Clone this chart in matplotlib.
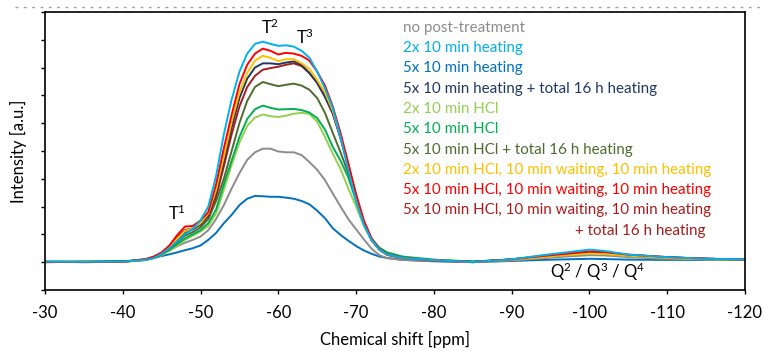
import matplotlib.pyplot as plt
from matplotlib.lines import Line2D

plt.rcParams['font.family'] = ['Lato', 'DejaVu Sans']
plt.rcParams['axes.unicode_minus'] = False
plt.rcParams['mathtext.default'] = 'regular'

# chemical shift grid [ppm]
shift = [-30, -35, -40, -43, -44, -45, -46, -47, -48, -49, -50, -51, -52, -53, -54,
         -55, -56, -57, -58, -59, -60, -61, -62, -63, -64, -65, -66, -67, -68, -69,
         -70, -71, -72, -73, -74, -76, -80, -85, -90, -94, -97, -100, -102, -105,
         -110, -115, -120]

no_post = [0.01, 0.02, 0.01, 0.12, 0.2, 0.3, 0.42, 0.57, 0.7, 0.8, 0.92, 1.15, 1.55, 2.05, 2.65,
           3.2, 3.68, 3.95, 4.08, 4.08, 3.98, 3.95, 3.95, 3.85, 3.6, 3.32, 2.95, 2.47, 2.0, 1.55,
           1.18, 0.82, 0.48, 0.25, 0.14, 0.08, 0.04, 0.0, 0.06, 0.14, 0.2, 0.25, 0.24, 0.18,
           0.12, 0.1, 0.1]
heat_2x = [0.02, 0.01, 0.02, 0.08, 0.15, 0.3, 0.5, 0.75, 1.0, 1.2, 1.5, 2.0, 3.1, 4.6, 5.85,
           6.85, 7.5, 7.85, 7.93, 7.85, 7.78, 7.8, 7.75, 7.6, 7.35, 6.85, 6.25, 5.55, 4.5, 3.3,
           2.2, 1.35, 0.8, 0.45, 0.28, 0.15, 0.07, 0.0, 0.1, 0.25, 0.35, 0.45, 0.4, 0.27,
           0.18, 0.12, 0.1]
heat_5x = [0.01, 0.0, 0.01, 0.1, 0.15, 0.22, 0.28, 0.35, 0.43, 0.5, 0.6, 0.8, 1.05, 1.4, 1.7,
           2.05, 2.28, 2.38, 2.37, 2.35, 2.35, 2.32, 2.28, 2.2, 2.08, 1.85, 1.58, 1.22, 0.98, 0.77,
           0.58, 0.42, 0.3, 0.2, 0.15, 0.08, 0.03, 0.0, 0.04, 0.08, 0.1, 0.12, 0.11, 0.09,
           0.08, 0.08, 0.08]
heat_5x_16h = [0.0, 0.01, 0.02, 0.08, 0.16, 0.3, 0.52, 0.8, 1.05, 1.18, 1.35, 1.7, 2.5, 3.65, 4.85,
               5.9, 6.6, 7.0, 7.15, 7.15, 7.12, 7.18, 7.22, 7.1, 6.8, 6.45, 5.95, 5.35, 4.45, 3.45,
               2.3, 1.4, 0.78, 0.44, 0.26, 0.14, 0.06, 0.01, 0.09, 0.2, 0.28, 0.34, 0.32, 0.24,
               0.16, 0.12, 0.1]
hcl_2x = [0.02, 0.0, 0.02, 0.08, 0.15, 0.25, 0.4, 0.6, 0.8, 0.95, 1.1, 1.3, 1.75, 2.6, 3.5,
          4.3, 4.9, 5.2, 5.31, 5.25, 5.22, 5.27, 5.34, 5.37, 5.33, 5.05, 4.5, 3.9, 3.35, 2.65,
          2.0, 1.3, 0.78, 0.47, 0.3, 0.17, 0.08, 0.02, 0.09, 0.18, 0.25, 0.3, 0.29, 0.22,
          0.15, 0.11, 0.1]
hcl_5x = [0.01, 0.02, 0.03, 0.1, 0.18, 0.3, 0.45, 0.65, 0.85, 1.0, 1.15, 1.4, 1.9, 2.8, 3.65,
          4.5, 5.15, 5.5, 5.63, 5.55, 5.49, 5.5, 5.51, 5.47, 5.38, 5.18, 4.77, 4.15, 3.65, 3.05,
          2.2, 1.42, 0.85, 0.52, 0.35, 0.2, 0.09, 0.02, 0.1, 0.2, 0.28, 0.34, 0.33, 0.25,
          0.17, 0.12, 0.1]
hcl_5x_16h = [0.01, 0.01, 0.02, 0.08, 0.15, 0.28, 0.48, 0.72, 0.95, 1.08, 1.25, 1.55, 2.2, 3.0, 4.0,
              5.0, 5.8, 6.3, 6.48, 6.4, 6.33, 6.38, 6.42, 6.35, 6.2, 5.9, 5.37, 4.65, 3.95, 3.2,
              2.25, 1.4, 0.8, 0.47, 0.3, 0.16, 0.07, 0.01, 0.1, 0.22, 0.3, 0.36, 0.35, 0.26,
              0.18, 0.12, 0.1]
hcl_wait_2x = [0.0, 0.02, 0.0, 0.08, 0.17, 0.32, 0.55, 0.85, 1.12, 1.22, 1.4, 1.75, 2.6, 3.8, 5.05,
               6.1, 6.8, 7.25, 7.42, 7.35, 7.23, 7.3, 7.3, 7.15, 6.95, 6.55, 6.1, 5.45, 4.5, 3.5,
               2.35, 1.42, 0.8, 0.45, 0.27, 0.14, 0.06, 0.0, 0.08, 0.18, 0.26, 0.32, 0.3, 0.23,
               0.15, 0.1, 0.1]
hcl_wait_5x = [0.01, 0.0, 0.01, 0.1, 0.2, 0.35, 0.6, 0.97, 1.28, 1.3, 1.5, 1.8, 2.8, 4.1, 5.3,
               6.4, 7.1, 7.5, 7.68, 7.6, 7.47, 7.53, 7.5, 7.42, 7.25, 6.85, 6.35, 5.6, 4.65, 3.55,
               2.45, 1.5, 0.85, 0.47, 0.28, 0.15, 0.06, 0.0, 0.1, 0.22, 0.3, 0.38, 0.36, 0.27,
               0.18, 0.12, 0.1]
hcl_wait_5x_16h = [0.0, 0.01, 0.01, 0.09, 0.18, 0.33, 0.56, 0.9, 1.15, 1.22, 1.35, 1.65, 2.35, 3.45, 4.6,
                   5.6, 6.3, 6.7, 6.92, 6.98, 7.03, 7.1, 7.15, 7.05, 6.8, 6.45, 5.95, 5.35, 4.5, 3.5,
                   2.35, 1.42, 0.8, 0.45, 0.27, 0.14, 0.06, 0.0, 0.09, 0.2, 0.28, 0.35, 0.33, 0.25,
                   0.17, 0.12, 0.1]

labels = ['no post-treatment', '2x 10 min heating', '5x 10 min heating',
          '5x 10 min heating + total 16 h heating', '2x 10 min HCl', '5x 10 min HCl',
          '5x 10 min HCl + total 16 h heating',
          '2x 10 min HCl, 10 min waiting, 10 min heating',
          '5x 10 min HCl, 10 min waiting, 10 min heating',
          '5x 10 min HCl, 10 min waiting, 10 min heating']
colors = ['#8c8c8c', '#00b0f0', '#0070c0', '#1f3864', '#92d050', '#00b050',
          '#4f6b2f', '#ffc000', '#ff0000', '#a81c1c']
series = [no_post, heat_2x, heat_5x, heat_5x_16h, hcl_2x, hcl_5x, hcl_5x_16h,
          hcl_wait_2x, hcl_wait_5x, hcl_wait_5x_16h]

fig = plt.figure(figsize=(7.65, 3.51), dpi=100)
ax = fig.add_axes([0.0588, 0.174, 0.915, 0.792])

# draw order: lower curves first, then the high ones on top
for i in [2, 0, 4, 5, 6, 9, 3, 7, 8, 1]:
    ax.plot(shift, series[i], color=colors[i], lw=1.4)

ax.set_xlim(-30, -120)
ax.set_ylim(-1, 9)
ax.set_xticks(range(-30, -121, -10))
ax.set_yticks(range(-1, 10))
ax.set_yticklabels([])
ax.tick_params(axis='both', direction='out', length=3, width=1, labelsize=12, pad=8)
for s in ax.spines.values():
    s.set_linewidth(1.2)

ax.set_xlabel('Chemical shift [ppm]', fontsize=12, labelpad=7)
ax.set_ylabel('Intensity [a.u.]', fontsize=12, labelpad=2)

# legend as coloured text rows
y0 = 0.943
dy = 0.073
for i, (lab, col) in enumerate(zip(labels, colors)):
    ax.text(0.511, y0 - i * dy, lab, color=col, fontsize=10.9,
            transform=ax.transAxes, va='center', ha='left')
ax.text(0.943, y0 - 10 * dy, '+ total 16 h heating', color=colors[9], fontsize=10.9,
        transform=ax.transAxes, va='center', ha='right')

# peak labels
ax.text(-59, 8.45, 'T$^{2}$', fontsize=12, ha='center', va='center')
ax.text(-63.4, 8.1, 'T$^{3}$', fontsize=12, ha='center', va='center')
ax.text(-47, 1.75, 'T$^{1}$', fontsize=12, ha='center', va='center')
ax.text(-101, -0.36, 'Q$^{2}$ / Q$^{3}$ / Q$^{4}$', fontsize=12, ha='center', va='center')

# dotted edge at the very top of the image
fig.add_artist(Line2D([0.02, 1.0], [0.98, 0.98], transform=fig.transFigure,
                      color='#a0a0a0', lw=1, ls=(0, (2, 4))))

fig.savefig('out.png', dpi=100)
